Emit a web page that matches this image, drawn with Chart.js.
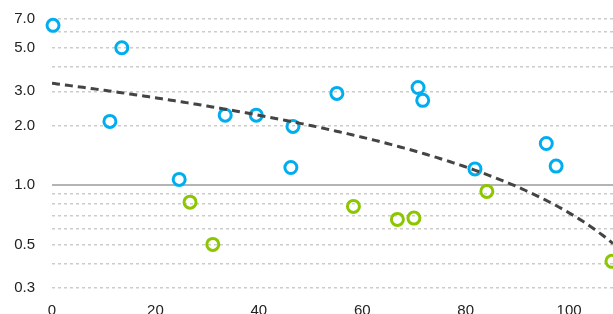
<!DOCTYPE html>
<html><head><meta charset="utf-8">
<script src="https://cdn.jsdelivr.net/npm/chart.js@4"></script>
<style>html,body{margin:0;padding:0;overflow:hidden;background:#fff}canvas{display:block}</style>
</head><body>
<canvas id="c" width="613" height="330"></canvas>
<script>
const blueX = [0.2, 13.5, 11.2, 33.5, 39.5, 46.6, 24.6, 46.2, 55.1, 70.8, 71.7, 95.6, 81.8, 97.5];
const blueY = [6.5, 5.0, 2.11, 2.27, 2.27, 1.99, 1.07, 1.23, 2.93, 3.14, 2.7, 1.63, 1.21, 1.25];
const greenX = [26.7, 31.1, 58.3, 66.8, 70.0, 84.1, 108.3];
const greenY = [0.82, 0.50, 0.78, 0.67, 0.68, 0.93, 0.41];
const yGridValues = [0.3, 0.4, 0.5, 0.6, 0.7, 0.8, 0.9, 1, 2, 3, 4, 5, 6, 7];
const yTickLabels = [0.3, 0.5, 1, 2, 3, 5, 7];
const xTickValues = [0, 20, 40, 60, 80, 100];
const xMin = 0, xMax = 108.5, yMin = 0.3, yMax = 7;

// linear least-squares trend over all points
const allX = blueX.concat(greenX), allY = blueY.concat(greenY);
const n = allX.length;
const mx = allX.reduce((a, b) => a + b, 0) / n;
const my = allY.reduce((a, b) => a + b, 0) / n;
let sxy = 0, sxx = 0;
for (let i = 0; i < n; i++) { sxy += (allX[i] - mx) * (allY[i] - my); sxx += (allX[i] - mx) ** 2; }
const slope = sxy / sxx, intercept = my - slope * mx;
const trend = [];
for (let x = xMin; x <= xMax + 0.001; x += 0.5) trend.push({x: x, y: intercept + slope * x});

const toPts = (xs, ys) => xs.map((x, i) => ({x: x, y: ys[i]}));
const FONT = {family: '"Liberation Sans", Arial, Helvetica, sans-serif', size: 15};

new Chart(document.getElementById('c'), {
  type: 'scatter',
  data: {
    datasets: [
      {type: 'line', data: trend, borderColor: '#444444', borderWidth: 3, borderDash: [8, 5],
       pointRadius: 0, fill: false, tension: 0},
      {data: toPts(blueX, blueY), borderColor: '#00aeef', backgroundColor: 'rgba(0,0,0,0)',
       borderWidth: 3, pointRadius: 6, clip: false},
      {data: toPts(greenX, greenY), borderColor: '#8cc600', backgroundColor: 'rgba(0,0,0,0)',
       borderWidth: 3, pointRadius: 6, clip: false}
    ]
  },
  options: {
    responsive: false,
    animation: false,
    devicePixelRatio: 1,
    layout: {autoPadding: false, padding: {top: 19, right: 0, bottom: 0, left: 0}},
    plugins: {legend: {display: false}, tooltip: {enabled: false}},
    scales: {
      x: {
        type: 'linear', min: xMin, max: xMax,
        afterBuildTicks: s => { s.ticks = xTickValues.map(v => ({value: v})); },
        afterFit: s => { s.height = 42; s.paddingLeft = 0; s.paddingRight = 0; },
        grid: {display: false, drawTicks: false},
        border: {display: false},
        ticks: {font: FONT, color: '#222', padding: 14, maxRotation: 0, callback: v => String(v)}
      },
      y: {
        type: 'logarithmic', min: yMin, max: yMax,
        afterBuildTicks: s => { s.ticks = yGridValues.map(v => ({value: v})); },
        afterFit: s => { s.width = 52; s.paddingTop = 0; s.paddingBottom = 0; },
        grid: {
          drawTicks: false,
          color: c => (c.tick && c.tick.value === 1) ? '#b4b4b4' : '#cccccc',
          lineWidth: c => (c.tick && c.tick.value === 1) ? 2 : 1.5
        },
        border: {display: false, dash: c => (c.tick && c.tick.value === 1) ? [] : [3, 3]},
        ticks: {
          font: FONT, color: '#222', padding: 17, autoSkip: false,
          callback: v => yTickLabels.some(t => Math.abs(t - v) < 1e-9) ? Number(v).toFixed(1) : ''
        }
      }
    }
  }
});
</script>
</body></html>
